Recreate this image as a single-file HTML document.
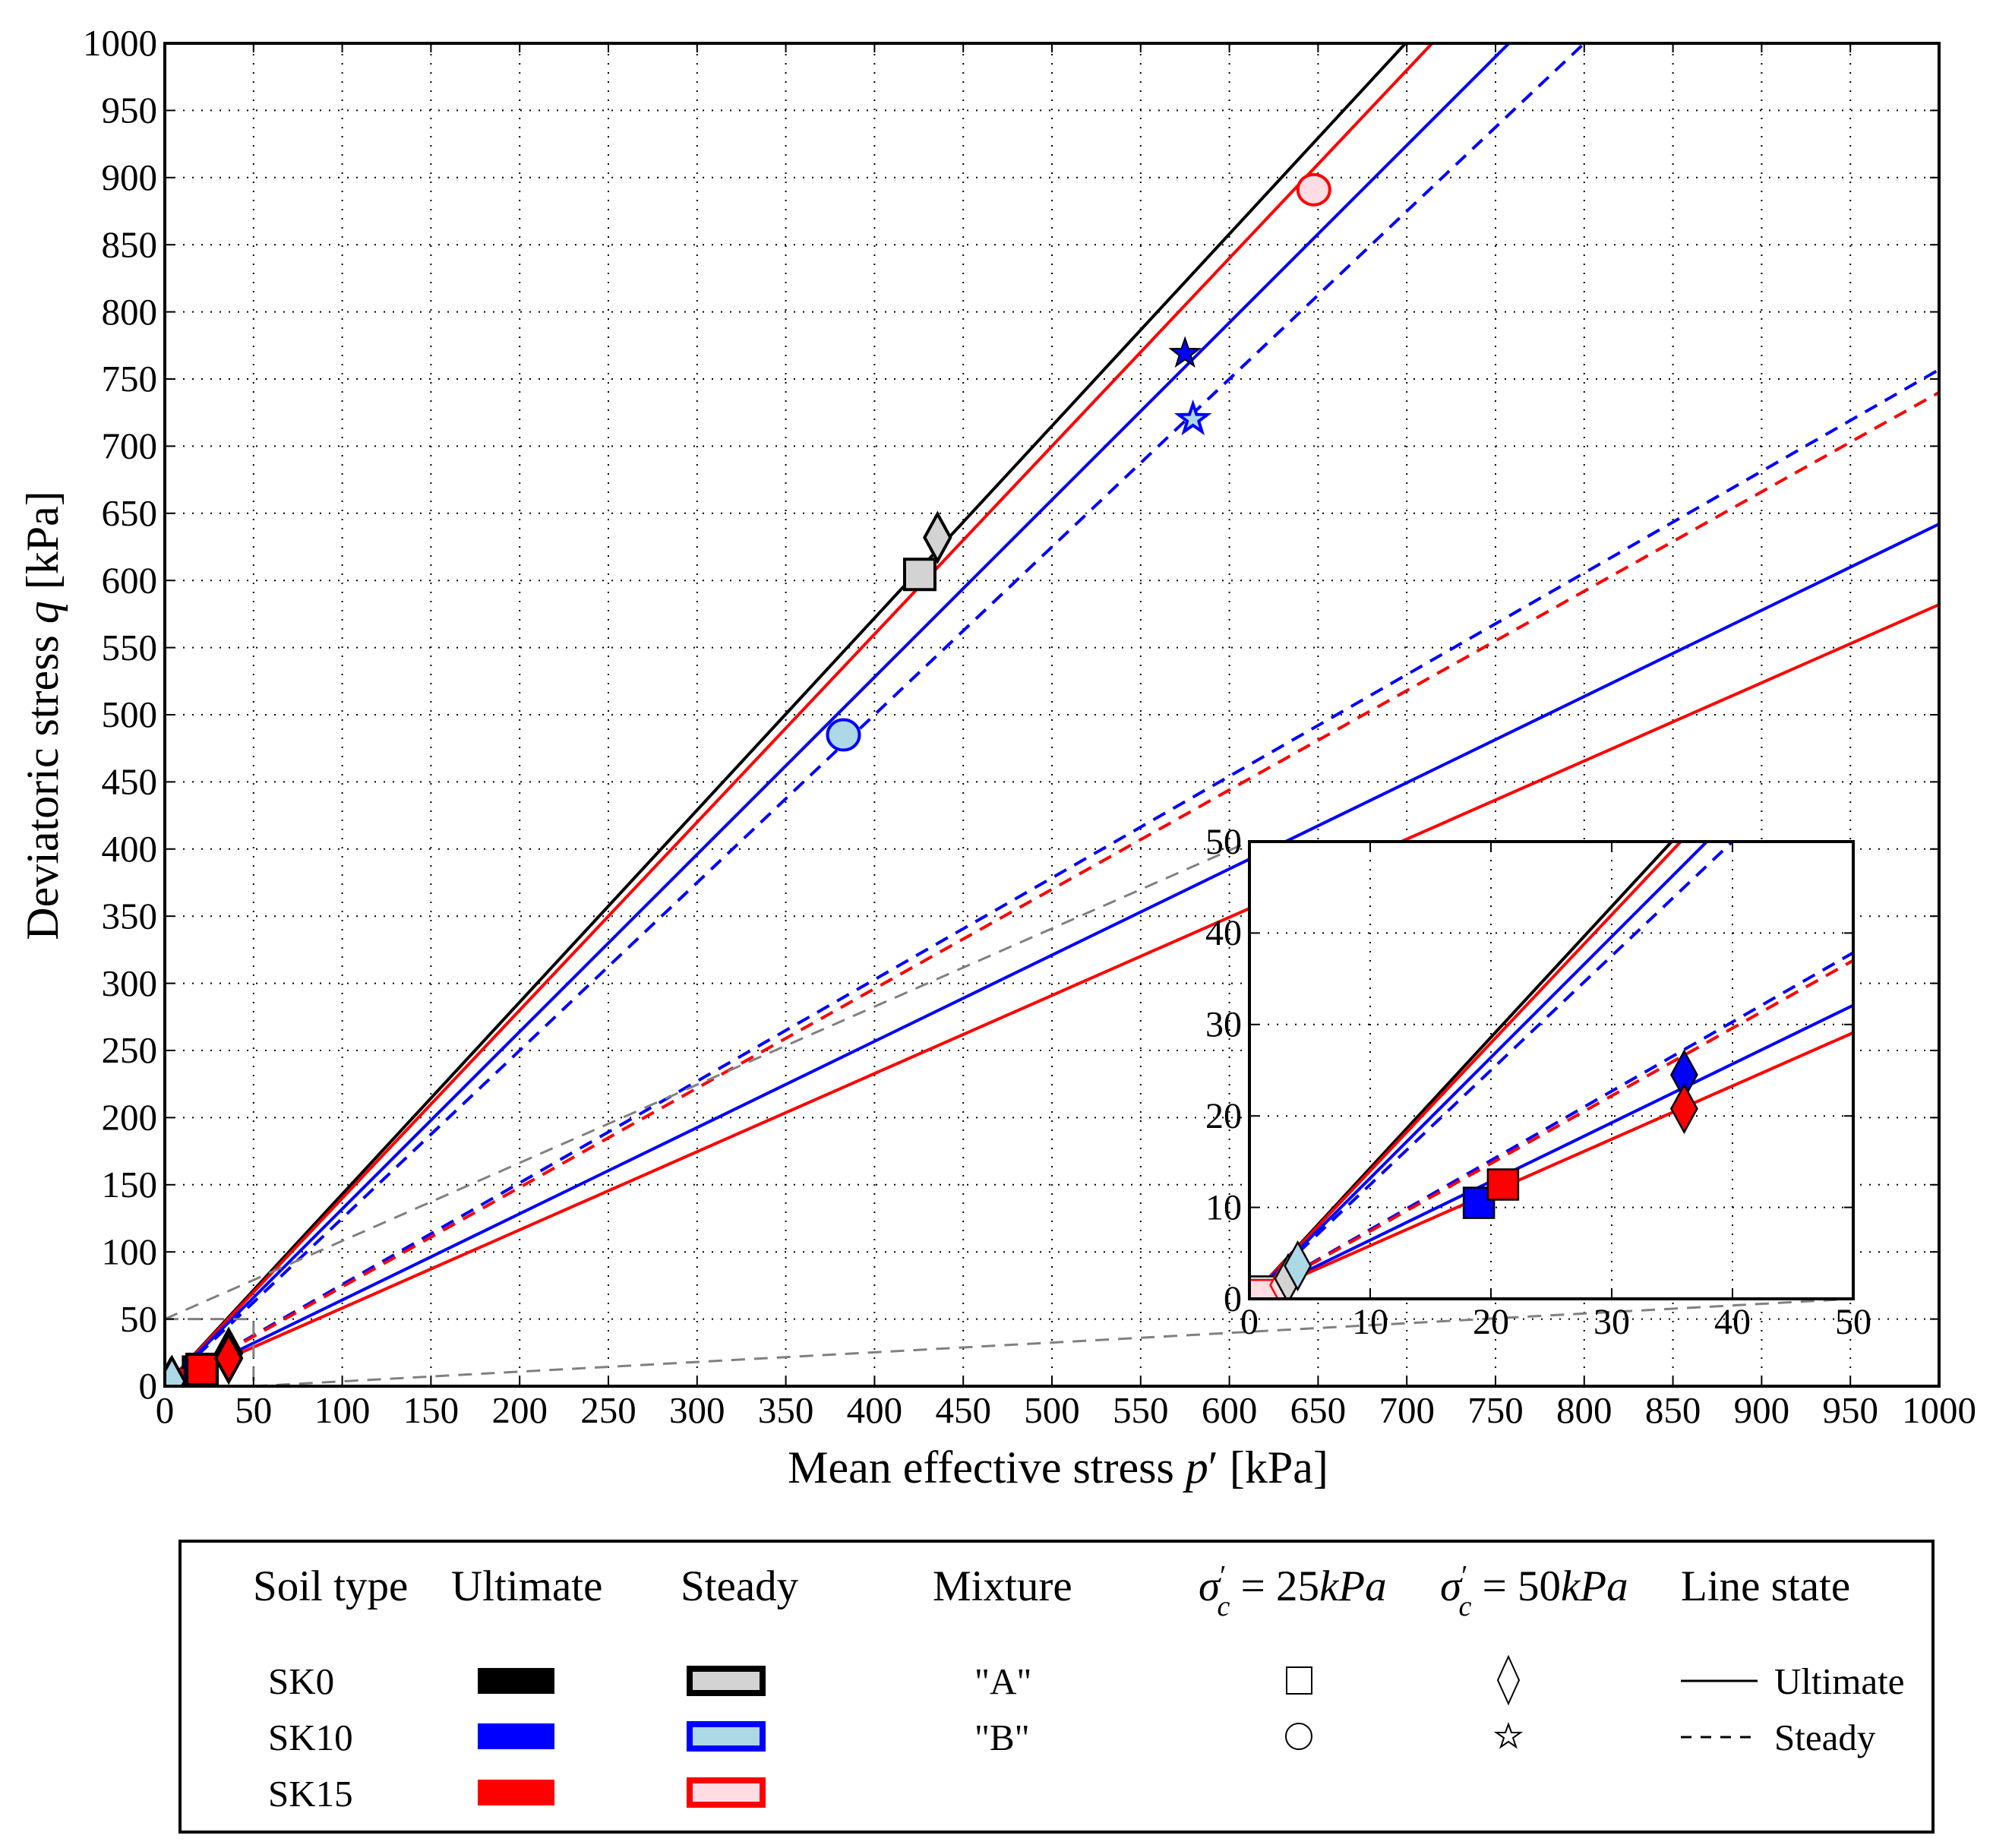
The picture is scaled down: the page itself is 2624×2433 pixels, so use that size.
<!DOCTYPE html>
<html><head><meta charset="utf-8"><title>q-p chart</title>
<style>
html,body{margin:0;padding:0;background:#fff;}
svg{display:block;font-family:"Liberation Serif","DejaVu Serif",serif;}
</style></head>
<body>
<svg id="chart" width="2624" height="2433" viewBox="0 0 2624 2433" xmlns="http://www.w3.org/2000/svg">
<defs>
<clipPath id="mainClip"><rect x="217" y="57" width="2336" height="1768"/></clipPath>
<clipPath id="insetClip"><rect x="1645" y="1108" width="795" height="602"/></clipPath>
</defs>
<rect x="0" y="0" width="2624" height="2433" fill="#fff"/>
<g id="main"></g>
<g id="inset"></g>
<g id="legend" transform="translate(0,-10)">
<rect x="237" y="2039" width="2308" height="383" fill="#fff" stroke="#000" stroke-width="4"/>
<g font-size="57">
<text x="333" y="2117">Soil type</text>
<text x="594" y="2117">Ultimate</text>
<text x="896" y="2117">Steady</text>
<text x="1228" y="2117">Mixture</text>
<text x="1578" y="2117"><tspan font-style="italic">σ</tspan><tspan font-size="38" dy="-20">′</tspan><tspan font-size="38" font-style="italic" dx="-12" dy="40">c</tspan><tspan dy="-20"> = 25</tspan><tspan font-style="italic">kPa</tspan></text>
<text x="1896" y="2117"><tspan font-style="italic">σ</tspan><tspan font-size="38" dy="-20">′</tspan><tspan font-size="38" font-style="italic" dx="-12" dy="40">c</tspan><tspan dy="-20"> = 50</tspan><tspan font-style="italic">kPa</tspan></text>
<text x="2213" y="2117">Line state</text>
</g>
<g font-size="49">
<text x="353" y="2240">SK0</text>
<text x="353" y="2314">SK10</text>
<text x="353" y="2388">SK15</text>
<rect x="629" y="2206" width="101" height="34" fill="#000"/>
<rect x="629" y="2279" width="101" height="34" fill="#0000ff"/>
<rect x="629" y="2353" width="101" height="34" fill="#ff0000"/>
<rect x="908" y="2207" width="96" height="32" fill="#d3d3d3" stroke="#000" stroke-width="8"/>
<rect x="908" y="2280" width="96" height="32" fill="#add8e6" stroke="#0000ff" stroke-width="8"/>
<rect x="908" y="2354" width="96" height="32" fill="#ffdde3" stroke="#ff0000" stroke-width="8"/>
<text x="1283" y="2240">"A"</text>
<text x="1283" y="2314">"B"</text>
<rect x="1694" y="2205" width="33" height="35" fill="none" stroke="#000" stroke-width="2"/>
<circle cx="1710" cy="2296" r="17" fill="none" stroke="#000" stroke-width="2"/>
<polygon points="1986,2191 2000,2222 1986,2253 1972,2222" fill="none" stroke="#000" stroke-width="2"/>
<polygon points="1986,2280 1990,2291 2002,2291 1992,2298 1996,2310 1986,2303 1976,2310 1980,2298 1970,2291 1982,2291" fill="none" stroke="#000" stroke-width="2"/>
<line x1="2213" y1="2223" x2="2314" y2="2223" stroke="#000" stroke-width="3"/>
<line x1="2213" y1="2297" x2="2314" y2="2297" stroke="#000" stroke-width="3" stroke-dasharray="14,12"/>
<text x="2336" y="2240">Ultimate</text>
<text x="2336" y="2314">Steady</text>
</g>
</g>
</svg>
<script>
// ---- data ----
const xTicks = [0,50,100,150,200,250,300,350,400,450,500,550,600,650,700,750,800,850,900,950,1000];
const yTicks = [0,50,100,150,200,250,300,350,400,450,500,550,600,650,700,750,800,850,900,950,1000];
const insetTicks = [0,10,20,30,40,50];
const lineNames = ['sk0-ultimate-high','sk15-ultimate-high','sk10-ultimate-high','sk10-steady-high','sk10-steady-low','sk15-steady-low','sk10-ultimate-low','sk15-ultimate-low'];
const lineSlopes = [1.43, 1.40, 1.32, 1.25, 0.757, 0.74, 0.642, 0.582];
const lineColors = ['#000','#ff0000','#0000ff','#0000ff','#0000ff','#ff0000','#0000ff','#ff0000'];
const lineDashed = [false,false,false,true,true,true,false,false];
// markers: p, q, shape, fill, edge
const markerNames = ['sk0-square','sk0-diamond','sk15-circle','sk10-star-filled','sk10-star-open','sk10-circle','sk10-square','sk15-square','sk10-diamond','sk15-diamond','sk0-square-small','sk15-square-small','sk15-diamond-small','sk0-diamond-small','sk10-diamond-small'];
const markerP = [425.5, 435.5, 647.6, 575, 579.5, 382.5, 19, 21, 36, 36, 0.8, 1.2, 2.8, 3.2, 4];
const markerQ = [604.5, 632, 891, 769, 720, 485, 10.5, 12.5, 24.5, 20.8, 0.8, 0.4, 1.5, 2.2, 3.6];
const markerShape = ['s','d','o','*','*','o','s','s','d','d','s','s','d','d','d'];
const markerFill = ['#d3d3d3','#d3d3d3','#ffdde3','#0000ff','#add8e6','#add8e6','#0000ff','#ff0000','#0000ff','#ff0000','#d3d3d3','#ffdde3','#ffdde3','#d3d3d3','#add8e6'];
const markerEdge = ['#000','#000','#ff0000','#000','#0000ff','#0000ff','#000','#000','#000','#000','#000','#ff0000','#ff0000','#000','#000'];

// ---- scales ----
const M = {x0:217, x1:2553, y0:1825, y1:57, pmax:1000, qmax:1000};
const I = {x0:1645, x1:2440, y0:1710, y1:1108, pmax:50, qmax:50};
function sx(a,p){return a.x0 + p/a.pmax*(a.x1-a.x0);}
function sy(a,q){return a.y0 - q/a.qmax*(a.y0-a.y1);}
const NS='http://www.w3.org/2000/svg';
function mk(tag, attrs, parent){const e=document.createElementNS(NS,tag);for(const k in attrs)e.setAttribute(k,attrs[k]);parent.appendChild(e);return e;}

function markerEl(parent, a, i, big){
  const cx=sx(a,markerP[i]), cy=sy(a,markerQ[i]);
  let e;
  const sw = big?4:2.5;
  if(markerShape[i]==='s'){
    e=mk('rect',{x:cx-20,y:cy-20,width:40,height:40,fill:markerFill[i],stroke:markerEdge[i],'stroke-width':sw},parent);
  } else if(markerShape[i]==='d'){
    e=mk('polygon',{points:`${cx},${cy-31} ${cx+17},${cy} ${cx},${cy+31} ${cx-17},${cy}`,fill:markerFill[i],stroke:markerEdge[i],'stroke-width':sw},parent);
  } else if(markerShape[i]==='o'){
    e=mk('ellipse',{cx:cx,cy:cy,rx:21,ry:20,fill:markerFill[i],stroke:markerEdge[i],'stroke-width':4},parent);
  } else {
    let pts=[];
    for(let k=0;k<10;k++){const r=k%2?8:20;const ang=-Math.PI/2+k*Math.PI/5;pts.push((cx+r*Math.cos(ang)).toFixed(1)+','+(cy+r*Math.sin(ang)).toFixed(1));}
    e=mk('polygon',{points:pts.join(' '),fill:markerFill[i],stroke:markerEdge[i],'stroke-width':markerEdge[i]==='#000'?2:4},parent);
  }
  
  
}

function drawAxes(g, a, xt, yt, clipId, fs, labelPad, isInset){
  mk('rect',{x:a.x0,y:a.y1,width:a.x1-a.x0,height:a.y0-a.y1,fill:'#fff'},g);
  const grid=mk('g',{stroke:'#000','stroke-width':2,'stroke-dasharray':'2,10'},g);
  
  
  xt.forEach(v=>{const x=sx(a,v);mk('line',{x1:x,y1:a.y0,x2:x,y2:a.y1},grid);});
  yt.forEach(v=>{const y=sy(a,v);mk('line',{x1:a.x0,y1:y,x2:a.x1,y2:y},grid);});
  const plot=mk('g',{'clip-path':'url(#'+clipId+')'},g);
  lineSlopes.forEach((m,i)=>{
    const pEnd=a.pmax;
    const l=mk('line',{x1:sx(a,0),y1:sy(a,0),x2:sx(a,pEnd),y2:sy(a,m*pEnd),stroke:lineColors[i],'stroke-width':4},plot);
    if(lineDashed[i]) l.setAttribute('stroke-dasharray','18,12');
    
    
  });
  if(!isInset){
    const zr=mk('rect',{x:sx(a,0),y:sy(a,50),width:sx(a,50)-sx(a,0),height:sy(a,0)-sy(a,50),fill:'none',stroke:'#808080','stroke-width':3,'stroke-dasharray':'18,12'},plot);
    
    
    const c1=mk('line',{x1:sx(a,0),y1:sy(a,50),x2:I.x0,y2:I.y1,stroke:'#808080','stroke-width':3,'stroke-dasharray':'18,12'},plot);
    
    
    const c2=mk('line',{x1:sx(a,50),y1:sy(a,0),x2:I.x1,y2:I.y0,stroke:'#808080','stroke-width':3,'stroke-dasharray':'18,12'},plot);
    
    
  }
  const mg=mk('g',{},plot);
  
  
  for(let i=0;i<markerP.length;i++) markerEl(mg,a,i,!isInset);
  const fr=mk('rect',{x:a.x0,y:a.y1,width:a.x1-a.x0,height:a.y0-a.y1,fill:'none',stroke:'#000','stroke-width':4},g);
  
  
  const tk=mk('g',{stroke:'#000','stroke-width':2},g);
  xt.forEach(v=>{const x=sx(a,v);mk('line',{x1:x,y1:a.y0,x2:x,y2:a.y0-12},tk);mk('line',{x1:x,y1:a.y1,x2:x,y2:a.y1+12},tk);});
  yt.forEach(v=>{const y=sy(a,v);mk('line',{x1:a.x0,y1:y,x2:a.x0+12,y2:y},tk);mk('line',{x1:a.x1,y1:y,x2:a.x1-12,y2:y},tk);});
  xt.forEach(v=>{const t=mk('text',{x:sx(a,v),y:a.y0+labelPad,'font-size':fs,'text-anchor':'middle'},g);t.textContent=v;
    
    });
  yt.forEach(v=>{const t=mk('text',{x:a.x0-10,y:sy(a,v)+fs*0.33,'font-size':fs,'text-anchor':'end'},g);t.textContent=v;
    
    });
}

const mainG=document.getElementById('main');
drawAxes(mainG, M, xTicks, yTicks, 'mainClip', 49, 48, false);
const xl=mk('text',{x:1393,y:1952,'font-size':60,'text-anchor':'middle'},mainG);
xl.innerHTML='Mean effective stress <tspan font-style="italic">p</tspan>′ [kPa]';


const yl=mk('text',{x:0,y:0,'font-size':60,'text-anchor':'middle',transform:'translate(76,942) rotate(-90)'},mainG);
yl.innerHTML='Deviatoric stress <tspan font-style="italic">q</tspan> [kPa]';



const insetG=document.getElementById('inset');
drawAxes(insetG, I, insetTicks, insetTicks, 'insetClip', 48, 46, true);
</script>
</body></html>
